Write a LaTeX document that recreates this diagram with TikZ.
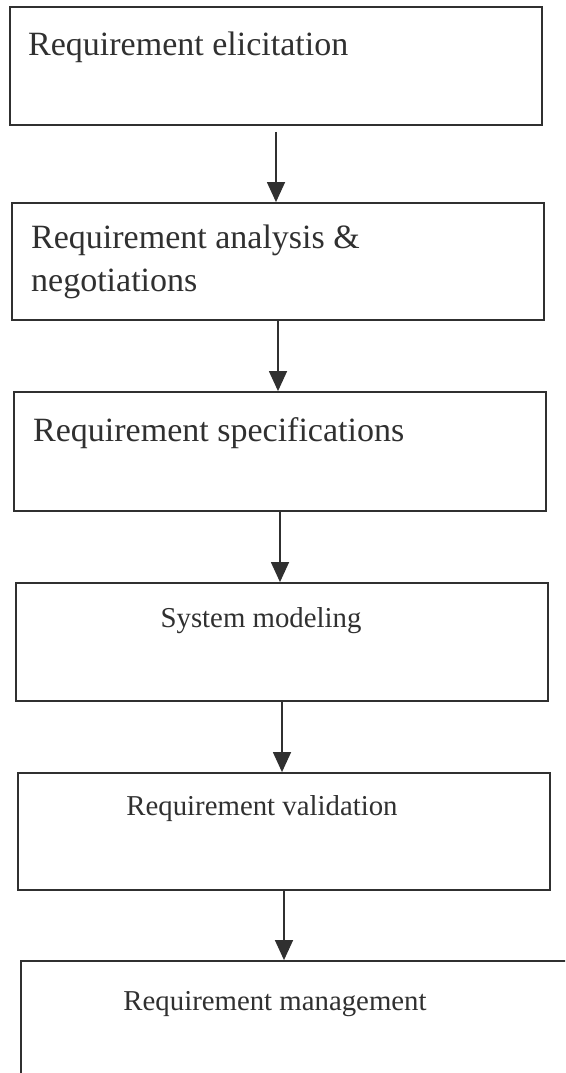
\documentclass[tikz,border=0pt]{standalone}
\usepackage{fontspec}
\setmainfont{Liberation Serif}
\usetikzlibrary{arrows.meta}
\definecolor{ink}{HTML}{303030}
\tikzset{
  stage/.style={draw=ink, line width=1.8pt, rectangle, inner sep=0pt},
  bigtext/.style={font=\fontsize{34}{40}\selectfont, text=ink, inner sep=0pt, anchor=base west},
  smalltext/.style={font=\fontsize{28.8}{34}\selectfont, text=ink, inner sep=0pt, anchor=base},
  flow/.style={draw=ink, line width=1.4pt, -{Triangle[width=18pt,length=20pt]}},
}
\begin{document}
\begin{tikzpicture}[x=1pt,y=-1pt]
\useasboundingbox (0,0) rectangle (565,1073);
\clip (0,0) rectangle (565,1073);
\fill[white] (0,0) rectangle (565,1073);

% process stages
\node[stage, minimum width=532pt, minimum height=118pt] (b1) at (276,66) {};
\node[stage, minimum width=532pt, minimum height=117pt] (b2) at (278,261.5) {};
\node[stage, minimum width=532pt, minimum height=119pt] (b3) at (280,451.5) {};
\node[stage, minimum width=532pt, minimum height=118pt] (b4) at (282,642) {};
\node[stage, minimum width=532pt, minimum height=117pt] (b5) at (284,831.5) {};
\node[stage, minimum width=560pt, minimum height=120pt] (b6) at (301,1021) {};

% stage titles
\node[bigtext] (t1) at (28,56) {Requirement elicitation};
\node[bigtext] (t2) at (31,248) {Requirement analysis \&};
\node[bigtext] (t2b) at (31,291) {negotiations};
\node[bigtext] (t3) at (33,441) {Requirement specifications};
\node[smalltext] (t4) at (261,627) {System modeling};
\node[smalltext] (t5) at (262,815) {Requirement validation};
\node[smalltext] (t6) at (275,1010) {Requirement management};

% flow between stages
\draw[flow, shorten <=6pt] (b1.south) -- (b1.south |- b2.north);
\draw[flow] (b2.south) -- (b2.south |- b3.north);
\draw[flow] (b3.south) -- (b3.south |- b4.north);
\draw[flow] (b4.south) -- (b4.south |- b5.north);
\draw[flow] (b5.south) -- (b5.south |- b6.north);
\end{tikzpicture}
\end{document}
